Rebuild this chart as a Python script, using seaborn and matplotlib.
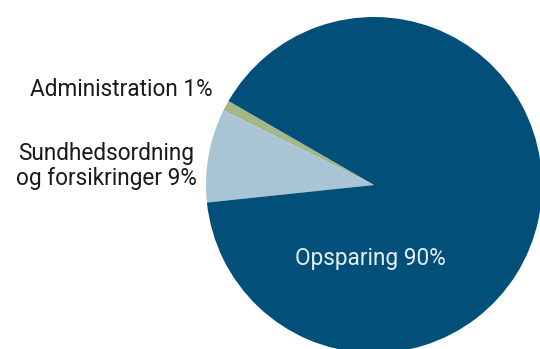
import matplotlib
matplotlib.use("Agg")
import matplotlib.pyplot as plt
import seaborn as sns

sns.set_theme(style="white")
plt.rcParams['font.family'] = ['Roboto', 'DejaVu Sans']

categories = ["Administration", "Sundhedsordning\nog forsikringer", "Opsparing"]
values = [1, 9, 90]
colors = ["#A3B886", "#A8C4D5", "#02507A"]

fig = plt.figure(figsize=(5.40, 3.49), dpi=100)
ax = fig.add_axes([0, 0, 1, 1])
ax.pie(values, colors=colors, startangle=150, counterclock=True,
       center=(374, 349 - 185), radius=168,
       wedgeprops=dict(linewidth=0), frame=False)
ax.set_xlim(0, 540)
ax.set_ylim(0, 349)
ax.set_aspect('equal')
ax.axis('off')

fs = 16.3
ax.text(213, 349 - 89, f"{categories[0]} {values[0]}%", ha='right', va='center',
        fontsize=fs, color='#1a1a1a')
ax.text(197, 349 - 166, f"{categories[1]} {values[1]}%", ha='right', va='center',
        multialignment='center', fontsize=fs, color='#1a1a1a',
        linespacing=1.12)
ax.text(370, 349 - 259, f"{categories[2]} {values[2]}%", ha='center', va='center',
        fontsize=fs, color='#E6EDF2')

fig.savefig("out.png", dpi=100)
